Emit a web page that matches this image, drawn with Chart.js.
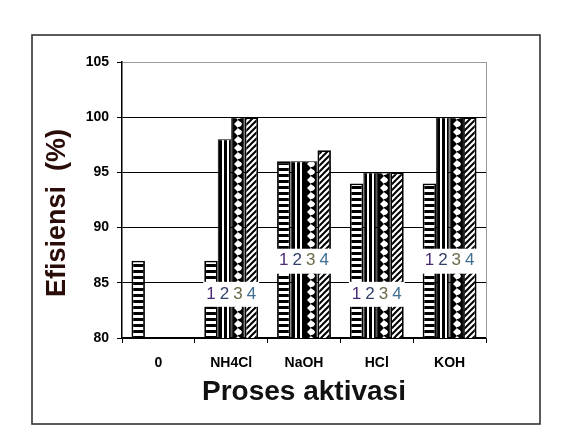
<!DOCTYPE html>
<html>
<head>
<meta charset="utf-8">
<script src="https://cdn.jsdelivr.net/npm/chart.js@4"></script>
<style>
  html, body { margin: 0; padding: 0; background: #fff; }
  #wrap { width: 569px; height: 442px; }
</style>
</head>
<body>
<div id="wrap"><canvas id="chart" width="569" height="442"></canvas></div>
<script>
const categories = ["0", "NH4Cl", "NaOH", "HCl", "KOH"];
const seriesNames = ["1", "2", "3", "4"];
const series1 = [87, 87, 96, 94, 94];
const series2 = [null, 98, 96, 95, 100];
const series3 = [null, 100, 96, 95, 100];
const series4 = [null, 100, 97, 95, 100];
// where the "1 2 3 4" labels sit on each group (value on y axis)
const labelPos = [null, 84, 87, 84, 87];
const yTicks = [80, 85, 90, 95, 100, 105];
const digitColors = ["#4b2a72", "#33416a", "#6b6a48", "#3f6f93"];

const catPct = 0.74;

// pattern tiles
function makeTile(w, h, draw) {
    const c = document.createElement("canvas");
    c.width = w; c.height = h;
    const g = c.getContext("2d");
    draw(g, w, h);
    return c;
}
const tiles = [
    makeTile(14, 6, (g, w, h) => {
        g.fillStyle = "#fff"; g.fillRect(0, 0, w, h);
        g.fillStyle = "#000"; g.fillRect(0, 0, w, 3);
    }),
    makeTile(14, 6, (g, w, h) => {
        g.fillStyle = "#000"; g.fillRect(0, 0, w, h);
        g.fillStyle = "#fff"; g.fillRect(4, 0, 2, h); g.fillRect(9, 0, 2, h);
    }),
    makeTile(14, 8, (g, w, h) => {
        g.fillStyle = "#000"; g.fillRect(0, 0, w, h);
        g.fillStyle = "#fff";
        g.beginPath();
        g.moveTo(7, 0); g.lineTo(11, 4); g.lineTo(7, 8); g.lineTo(3, 4); g.closePath();
        g.fill();
        g.beginPath(); g.arc(8, 4, 2.6, 0, Math.PI * 2); g.fill();
        g.fillStyle = "#000";
        g.fillRect(7, 7, 1.5, 1.5);
    }),
    makeTile(6, 6, (g, w, h) => {
        g.fillStyle = "#fff"; g.fillRect(0, 0, w, h);
        g.strokeStyle = "#000"; g.lineWidth = 2;
        g.beginPath();
        g.moveTo(-1, 7); g.lineTo(7, -1);
        g.moveTo(-1, 1); g.lineTo(1, -1);
        g.moveTo(5, 7); g.lineTo(7, 5);
        g.stroke();
    })
];

function barFill(c) {
    const chart = c.chart;
    const ds = c.datasetIndex;
    const pat = chart.ctx.createPattern(tiles[ds], "repeat");
    const xs = chart.scales && chart.scales.x;
    if (xs && c.dataIndex !== undefined && pat.setTransform) {
        const catW = (xs.right - xs.left) / categories.length;
        const barW = catW * catPct / seriesNames.length;
        const left = xs.getPixelForTick(c.dataIndex) + (ds - seriesNames.length / 2) * barW;
        pat.setTransform(new DOMMatrix().translate(Math.round(left), 0));
    }
    return pat;
}

const frameAndTitle = {
    id: "frameAndTitle",
    beforeDraw(chart) {
        const ctx = chart.ctx;
        ctx.save();
        ctx.fillStyle = "#fff";
        ctx.fillRect(0, 0, chart.width, chart.height);
        ctx.strokeStyle = "#333";
        ctx.lineWidth = 1.6;
        ctx.strokeRect(32, 35, 508, 389);
        ctx.restore();
    },
    afterDraw(chart) {
        const ctx = chart.ctx;
        const a = chart.chartArea;
        ctx.save();
        // right border of plot
        ctx.strokeStyle = "#9a9a9a";
        ctx.lineWidth = 1;
        ctx.beginPath();
        ctx.moveTo(a.right + 0.5, a.top);
        ctx.lineTo(a.right + 0.5, a.bottom);
        ctx.stroke();
        // y title
        ctx.translate(a.left - 64, (a.top + a.bottom) / 2 + 13);
        ctx.rotate(-Math.PI / 2);
        ctx.fillStyle = "#2a0d08";
        ctx.font = 'bold 27px "Liberation Sans", Arial, sans-serif';
        ctx.textAlign = "center";
        ctx.textBaseline = "middle";
        ctx.fillText("Efisiensi  (%)", 0, 0);
        ctx.restore();
    }
};

const groupLabels = {
    id: "groupLabels",
    afterDatasetsDraw(chart) {
        const ctx = chart.ctx;
        const ys = chart.scales.y;
        ctx.save();
        labelPos.forEach((v, i) => {
            if (v === null) return;
            const y = ys.getPixelForValue(v);
            const bars = seriesNames.map((_, j) => chart.getDatasetMeta(j).data[i]);
            const l = bars[0].x - bars[0].width / 2 - 1;
            const r = bars[bars.length - 1].x + bars[bars.length - 1].width / 2 + 1;
            ctx.fillStyle = "#fff";
            ctx.fillRect(l, y - 12, r - l, 25);
            ctx.font = '17px "Liberation Sans", Arial, sans-serif';
            ctx.textAlign = "center";
            ctx.textBaseline = "middle";
            bars.forEach((b, j) => {
                ctx.fillStyle = digitColors[j];
                ctx.fillText(seriesNames[j], b.x, y);
            });
        });
        ctx.restore();
    }
};

const allSeries = [series1, series2, series3, series4];
const tickFont = { family: '"Liberation Sans", Arial, sans-serif', size: 14, weight: "bold" };

new Chart(document.getElementById("chart"), {
    type: "bar",
    data: {
        labels: categories,
        datasets: allSeries.map((s, i) => ({
            label: seriesNames[i],
            data: s,
            backgroundColor: barFill,
            borderColor: "#000",
            borderWidth: i === 0 || i === 3 ? 1.8 : 1,
            borderSkipped: "start",
            categoryPercentage: catPct,
            barPercentage: 1
        }))
    },
    options: {
        responsive: false,
        animation: false,
        events: [],
        layout: { padding: { left: 32, top: 62, right: 83, bottom: 24 } },
        plugins: {
            legend: { display: false },
            tooltip: { enabled: false }
        },
        scales: {
            x: {
                afterFit(s) { s.height = 80; },
                grid: {
                    offset: true,
                    drawOnChartArea: false,
                    drawTicks: true,
                    tickLength: 5,
                    color: "#000",
                    lineWidth: 1
                },
                border: { color: "#000", width: 1.5 },
                ticks: {
                    color: "#000",
                    padding: 12,
                    font: tickFont
                },
                title: {
                    display: true,
                    text: "Proses aktivasi",
                    color: "#111",
                    font: { family: '"Liberation Sans", Arial, sans-serif', size: 28, weight: "bold" },
                    padding: { top: 0, bottom: 9 }
                }
            },
            y: {
                min: yTicks[0],
                max: yTicks[yTicks.length - 1],
                afterFit(s) { s.width = 90; },
                afterBuildTicks(s) { s.ticks = yTicks.map(v => ({ value: v })); },
                grid: {
                    color: c => (c.tick && c.tick.value === 105 ? "#9a9a9a" : "#000"),
                    tickColor: "#000",
                    lineWidth: 1,
                    tickLength: 5
                },
                border: { color: "#000", width: 1.5 },
                ticks: {
                    color: "#000",
                    padding: 8,
                    font: tickFont
                }
            }
        }
    },
    plugins: [frameAndTitle, groupLabels]
});
</script>
</body>
</html>
